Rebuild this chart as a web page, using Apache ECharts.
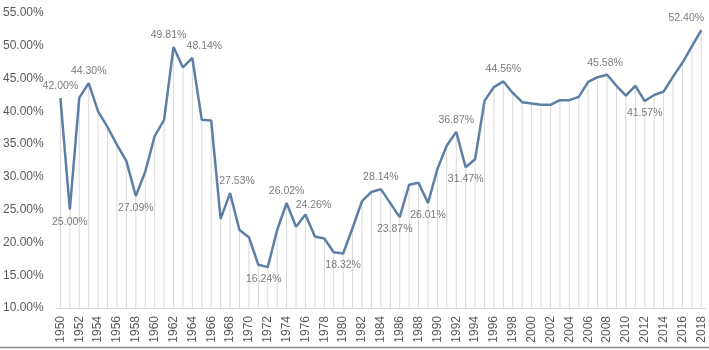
<!DOCTYPE html>
<html>
<head>
<meta charset="utf-8">
<script src="https://cdn.jsdelivr.net/npm/echarts@6/dist/echarts.min.js"></script>
<style>html,body{margin:0;padding:0;background:#fff}#c{width:709px;height:350px}</style>
</head>
<body>
<div id="c"></div>
<script>
const years = [];
for (let y = 1950; y <= 2018; y++) years.push(String(y));
const values = [
  42.00, 25.00, 42.05, 44.30, 40.00, 37.60, 34.90, 32.40, 27.09, 30.80,
  36.20, 38.70, 49.81, 46.70, 48.14, 38.70, 38.60, 23.60, 27.53, 21.90,
  20.80, 16.60, 16.24, 21.90, 26.02, 22.40, 24.26, 20.90, 20.60, 18.50,
  18.32, 22.20, 26.30, 27.70, 28.14, 26.00, 23.87, 28.80, 29.10, 26.01,
  31.20, 34.80, 36.87, 31.47, 32.70, 41.60, 43.70, 44.56, 42.80, 41.40,
  41.20, 41.00, 41.00, 41.70, 41.70, 42.20, 44.50, 45.20, 45.58, 43.90,
  42.40, 43.90, 41.57, 42.50, 43.00, 45.30, 47.40, 49.90, 52.40
];
const yTicks = [10, 15, 20, 25, 30, 35, 40, 45, 50, 55];
// labelled years: [year, position]
const labelled = [
  ['1950', 'top'], ['1951', 'bottom'], ['1953', 'top'], ['1958', 'bottom'],
  ['1962', 'top'], ['1964', 'top'], ['1968', 'top'], ['1972', 'bottom'],
  ['1974', 'top'], ['1976', 'top'], ['1980', 'bottom'], ['1984', 'top'],
  ['1986', 'bottom'], ['1989', 'bottom'], ['1992', 'top'], ['1993', 'bottom'],
  ['1997', 'top'], ['2008', 'top'], ['2012', 'bottom'], ['2018', 'top']
];
const labelOffsets = { '1962': [-5, 0], '1964': [12, 0], '1968': [7, 0], '1976': [8, 3], '2018': [-15, 0], '1972': [-4, 0], '1986': [-5, 0], '2008': [-2, 0] };

const labelMap = {};
labelled.forEach(([y, p]) => labelMap[y] = p);

// label carrier points (only labelled years)
const labelData = values.map((v, i) => {
  const y = years[i];
  if (!labelMap[y]) return '-';
  return {
    value: v,
    label: { position: labelMap[y], offset: labelOffsets[y] || [0, 0] }
  };
});

const chart = echarts.init(document.getElementById('c'), null, { renderer: 'canvas' });
chart.setOption({
  animation: false,
  backgroundColor: '#ffffff',
  grid: { left: 52, right: 3, top: 13, bottom: 42, containLabel: false },
  graphic: [{
    type: 'line',
    shape: { x1: 0, y1: 347.5, x2: 709, y2: 347.5 },
    style: { stroke: '#8c8c8c', lineWidth: 1.5 },
    silent: true
  }],
  xAxis: {
    type: 'category',
    data: years,
    boundaryGap: true,
    axisLine: { show: true, lineStyle: { color: '#d9d9d9', width: 1 } },
    axisTick: { show: false },
    axisLabel: {
      interval: 1,
      rotate: 90,
      margin: 8,
      color: '#595959',
      fontSize: 12,
      fontFamily: 'Liberation Sans, Arial, sans-serif'
    },
    splitLine: { show: false }
  },
  yAxis: {
    type: 'value',
    min: yTicks[0],
    max: yTicks[yTicks.length - 1],
    interval: 5,
    axisLine: { show: false },
    axisTick: { show: false },
    splitLine: { show: false },
    axisLabel: {
      margin: 12,
      color: '#595959',
      fontSize: 12,
      fontFamily: 'Liberation Sans, Arial, sans-serif',
      formatter: (v) => v.toFixed(2) + '%'
    }
  },
  series: [
    {
      type: 'bar',
      data: values,
      barWidth: 1,
      silent: true,
      clip: true,
      itemStyle: { color: '#d9d9d9' },
      z: 1
    },
    {
      type: 'line',
      data: values,
      symbol: 'none',
      showSymbol: false,
      smooth: false,
      silent: true,
      lineStyle: { color: '#5d7fa6', width: 2.5 },
      z: 3
    },
    {
      type: 'scatter',
      data: labelData,
      symbol: 'circle',
      symbolSize: 1,
      silent: true,
      itemStyle: { color: 'rgba(0,0,0,0)' },
      label: {
        show: true,
        color: '#595959',
        fontSize: 10.5,
        fontFamily: 'Liberation Sans, Arial, sans-serif',
        distance: 6,
        formatter: (p) => Number(p.value).toFixed(2) + '%'
      },
      z: 4
    }
  ]
});
</script>
</body>
</html>
